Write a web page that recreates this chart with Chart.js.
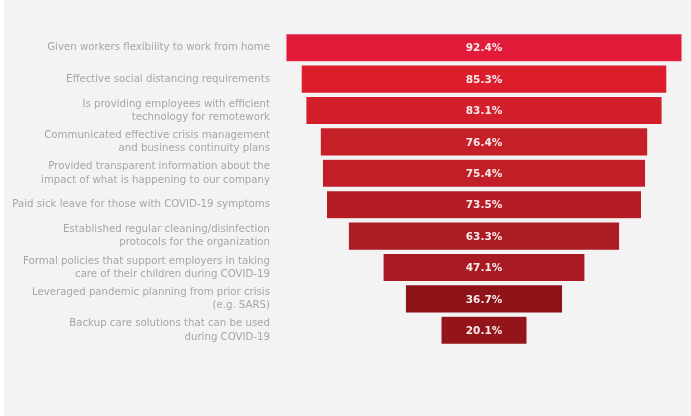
<!DOCTYPE html>
<html>
<head>
<meta charset="utf-8">
<script src="https://cdn.jsdelivr.net/npm/chart.js@4"></script>
<style>
  html, body { margin: 0; padding: 0; }
  body {
    width: 691px; height: 416px;
    background: #f3f3f4;
    box-sizing: border-box;
    border-left: 4px solid #ffffff;
    overflow: hidden;
  }
  #wrap { position: absolute; left: 0; top: 0; width: 691px; height: 416px; }
</style>
</head>
<body>
<div id="wrap"><canvas id="funnel"></canvas></div>
<script>
// measures employers took, share of respondents (%)
const measures = [
  "Given workers flexibility to work from home",
  "Effective social distancing requirements",
  ["Is providing employees with efficient", "technology for remotework"],
  ["Communicated effective crisis management", "and business continuity plans"],
  ["Provided transparent information about the", "impact of what is happening to our company"],
  "Paid sick leave for those with COVID-19 symptoms",
  ["Established regular cleaning/disinfection", "protocols for the organization"],
  ["Formal policies that support employers in taking", "care of their children during COVID-19"],
  ["Leveraged pandemic planning from prior crisis", "(e.g. SARS)"],
  ["Backup care solutions that can be used", "during COVID-19"]
];
const shares = [92.4, 85.3, 83.1, 76.4, 75.4, 73.5, 63.3, 47.1, 36.7, 20.1];
const barColors = [
  "#e21b3b", "#dc1e2c", "#d31f2b", "#c52028", "#c11f28",
  "#b51d25", "#ab1b22", "#a71a21", "#8e1318", "#941519"
];

// centre every bar on zero so the stack reads as a funnel
const spans = shares.map(v => [-v / 2, v / 2]);

const valueLabels = {
  id: "valueLabels",
  afterDatasetsDraw(chart) {
    const ctx = chart.ctx;
    const meta = chart.getDatasetMeta(0);
    ctx.save();
    ctx.fillStyle = "#fbe9ea";
    ctx.font = "bold 10.5px 'DejaVu Sans'";
    ctx.textAlign = "center";
    ctx.textBaseline = "middle";
    meta.data.forEach((bar, i) => {
      ctx.fillText(shares[i].toFixed(1) + "%", (bar.base + bar.x) / 2, bar.y + 1);
    });
    ctx.restore();
  }
};

new Chart(document.getElementById("funnel"), {
  type: "bar",
  data: {
    labels: measures,
    datasets: [{
      data: spans,
      backgroundColor: barColors,
      borderColor: "rgba(255,255,255,0.35)",
      borderWidth: 0.6,
      borderSkipped: false,
      barPercentage: 0.9,
      categoryPercentage: 1.0
    }]
  },
  options: {
    indexAxis: "y",
    responsive: true,
    maintainAspectRatio: false,
    animation: false,
    layout: { padding: { top: 32, bottom: 70, left: 0, right: 5 } },
    plugins: {
      legend: { display: false },
      tooltip: { enabled: false }
    },
    scales: {
      x: {
        display: false,
        min: -47.1,
        max: 47.1
      },
      y: {
        grid: { display: false, drawTicks: false },
        border: { display: false },
        afterFit(scale) { scale.width = 282; },
        ticks: {
          padding: 12,
          color: "#a6a6a6",
          font: { family: "DejaVu Sans", size: 10.2, lineHeight: 1.3 }
        }
      }
    }
  },
  plugins: [valueLabels]
});
</script>
</body>
</html>
